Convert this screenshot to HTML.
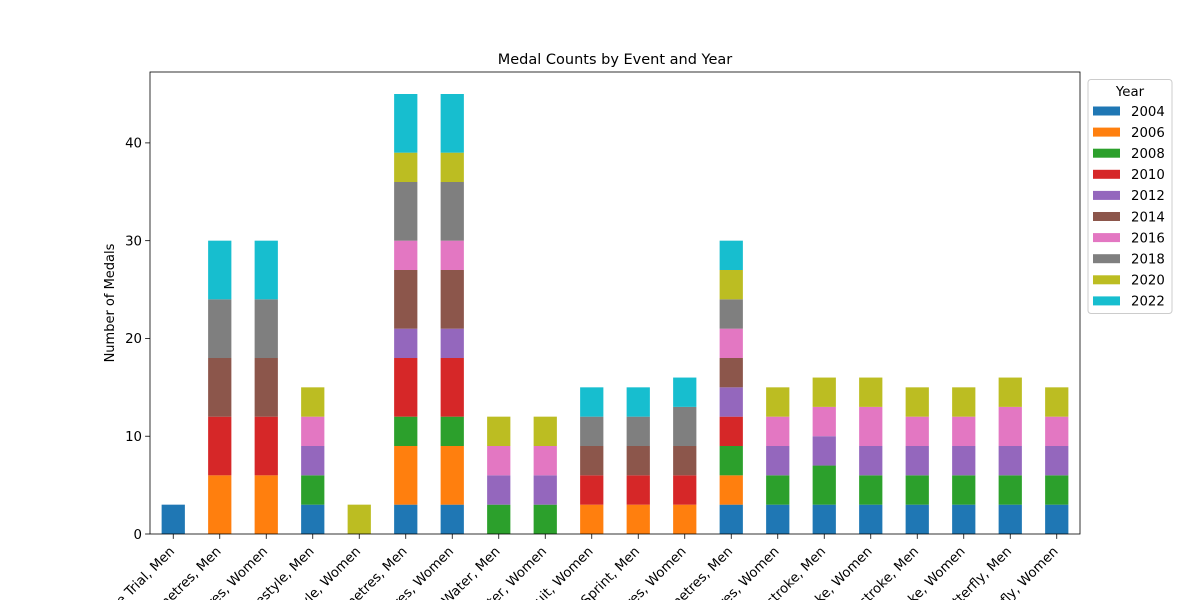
<!DOCTYPE html>
<html><head><meta charset="utf-8"><style>
html,body{margin:0;padding:0;background:#fff;width:1200px;height:600px;overflow:hidden;}
svg{display:block;font-family:"DejaVu Sans","Liberation Sans",sans-serif;overflow:hidden;}
</style></head><body>
<svg id="chart" width="1200" height="600" viewBox="0 0 1200 600" xmlns="http://www.w3.org/2000/svg">
<text x="615" y="64" font-size="14.5" text-anchor="middle">Medal Counts by Event and Year</text>
<text transform="translate(114,303) rotate(-90)" font-size="13" text-anchor="middle">Number of Medals</text>
<g id="bars"></g>
<g id="axes"></g>
<g id="legend"></g>
</svg>
<script>
const categories = ["Individual Time Trial, Men","500 metres, Men","500 metres, Women","100m Freestyle, Men","100m Freestyle, Women","1000 metres, Men","1000 metres, Women","10km Open Water, Men","10km Open Water, Women","Team Pursuit, Women","Team Sprint, Men","1500 metres, Women","5000 metres, Men","200 metres, Women","100m Breaststroke, Men","100m Breaststroke, Women","200m Backstroke, Men","200m Backstroke, Women","100m Butterfly, Men","100m Butterfly, Women"];
const years = ["2004","2006","2008","2010","2012","2014","2016","2018","2020","2022"];
const colors = ["#1f77b4","#ff7f0e","#2ca02c","#d62728","#9467bd","#8c564b","#e377c2","#7f7f7f","#bcbd22","#17becf"];
const s2004 = [3,0,0,3,0,3,3,0,0,0,0,0,3,3,3,3,3,3,3,3];
const s2006 = [0,6,6,0,0,6,6,0,0,3,3,3,3,0,0,0,0,0,0,0];
const s2008 = [0,0,0,3,0,3,3,3,3,0,0,0,3,3,4,3,3,3,3,3];
const s2010 = [0,6,6,0,0,6,6,0,0,3,3,3,3,0,0,0,0,0,0,0];
const s2012 = [0,0,0,3,0,3,3,3,3,0,0,0,3,3,3,3,3,3,3,3];
const s2014 = [0,6,6,0,0,6,6,0,0,3,3,3,3,0,0,0,0,0,0,0];
const s2016 = [0,0,0,3,0,3,3,3,3,0,0,0,3,3,3,4,3,3,4,3];
const s2018 = [0,6,6,0,0,6,6,0,0,3,3,4,3,0,0,0,0,0,0,0];
const s2020 = [0,0,0,3,3,3,3,3,3,0,0,0,3,3,3,3,3,3,3,3];
const s2022 = [0,6,6,0,0,6,6,0,0,3,3,3,3,0,0,0,0,0,0,0];
const series = [s2004,s2006,s2008,s2010,s2012,s2014,s2016,s2018,s2020,s2022];
const yTicks = [0,10,20,30,40];

const NS="http://www.w3.org/2000/svg";
const L=150,R=1080,T=72,B=534,ymax=47.25;
const step=(R-L)/categories.length;
const x=i=>L+step*(i+0.5);
const y=v=>B-(v/ymax)*(B-T);
function mk(tag,attrs,parent){const e=document.createElementNS(NS,tag);for(const k in attrs)e.setAttribute(k,attrs[k]);parent.appendChild(e);return e;}
const bars=document.getElementById('bars'),axes=document.getElementById('axes'),leg=document.getElementById('legend');
const bw=step*0.5;
categories.forEach((c,i)=>{
  let acc=0;
  series.forEach((s,j)=>{
    const v=s[i];
    if(v>0){
      const r=mk('rect',{x:x(i)-bw/2,y:y(acc+v),width:bw,height:y(acc)-y(acc+v),fill:colors[j]},bars);
      
      
    }
    acc+=v;
  });
  const t=mk('line',{x1:x(i),x2:x(i),y1:B,y2:B+4.9,stroke:'#000','stroke-width':0.8},axes);
  
  
  const lb=mk('text',{transform:`translate(${x(i)+2},${B+18}) rotate(-45)`,'font-size':13.3,'text-anchor':'end'},axes);
  
  
  lb.textContent=c;
});
yTicks.forEach(v=>{
  const t=mk('line',{x1:L-4.9,x2:L,y1:y(v),y2:y(v),stroke:'#000','stroke-width':0.8},axes);
  
  
  const lb=mk('text',{x:L-8,y:y(v)+4.8,'font-size':13.3,'text-anchor':'end'},axes);
  
  
  lb.textContent=v;
});
const fr=mk('rect',{x:L,y:T,width:R-L,height:B-T,fill:'none',stroke:'#000','stroke-width':0.8},axes);


const lbx=mk('rect',{x:1088,y:79.5,width:84,height:234,rx:3,fill:'#fff',stroke:'#ccc','stroke-width':1},leg);


const lt=mk('text',{x:1130,y:96,'font-size':13.3,'text-anchor':'middle'},leg);


lt.textContent='Year';
years.forEach((yr,j)=>{
  const cy=111+j*21.1;
  const sw=mk('rect',{x:1093,y:cy-4.5,width:27,height:9,fill:colors[j]},leg);
  
  
  const tx=mk('text',{x:1131,y:cy+4.8,'font-size':13.3},leg);
  
  
  tx.textContent=yr;
});
</script>
</body></html>
